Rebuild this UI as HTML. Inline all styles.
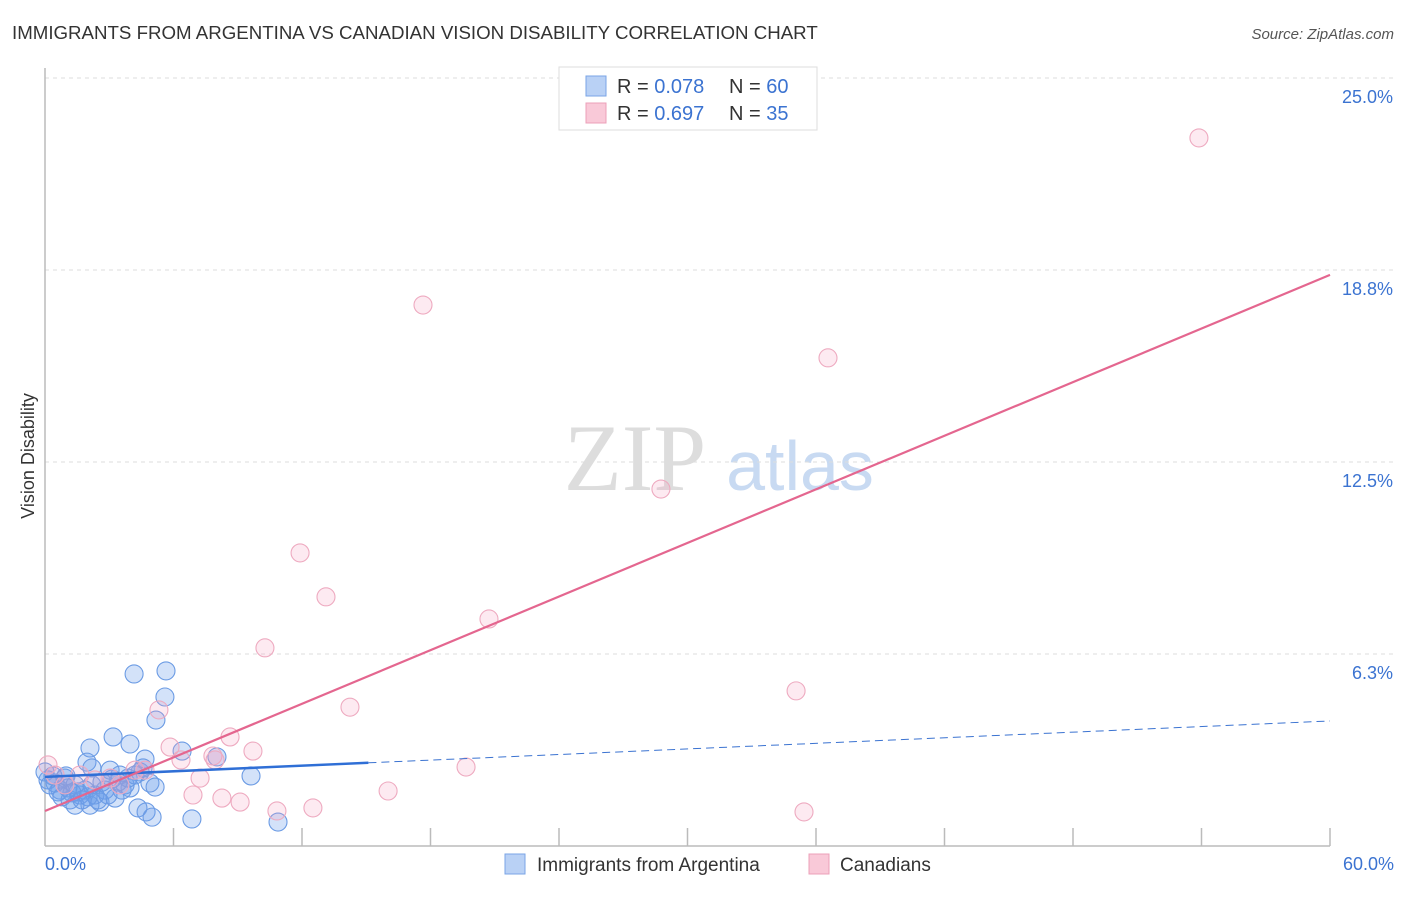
<!DOCTYPE html>
<html><head><meta charset="utf-8"><style>
body{margin:0;background:#fff;font-family:"Liberation Sans",sans-serif;}
</style></head><body>
<svg width="1406" height="892" viewBox="0 0 1406 892" xmlns="http://www.w3.org/2000/svg">
<text x="12" y="39" font-size="18.7" fill="#333">IMMIGRANTS FROM ARGENTINA VS CANADIAN VISION DISABILITY CORRELATION CHART</text>
<text x="1394" y="39" font-size="15" fill="#555" font-style="italic" text-anchor="end">Source: ZipAtlas.com</text>
<g>
<text x="635" y="490" font-size="95" fill="#ddd" font-family="Liberation Serif" text-anchor="middle">ZIP</text>
<text x="800" y="490" font-size="70" fill="#c8daf2" text-anchor="middle">atlas</text>
</g>
<g id="grid"></g>
<g id="axes"></g>
<g id="marks"></g>
<text transform="translate(34,456) rotate(-90)" font-size="18" fill="#333" text-anchor="middle">Vision Disability</text>
<text x="45" y="870" font-size="18" fill="#3b73d1">0.0%</text>
<text x="1394" y="870" font-size="18" fill="#3b73d1" text-anchor="end">60.0%</text>
<g>
<rect x="559" y="67" width="258" height="63" fill="#fff" stroke="#ddd"/>
<rect x="586" y="76" width="20" height="20" fill="#b9d1f5" stroke="#7aa4e6"/>
<rect x="586" y="103" width="20" height="20" fill="#f9c9d8" stroke="#eca0b9"/>
<text x="617" y="93" font-size="20" fill="#333">R = <tspan fill="#3b73d1">0.078</tspan></text>
<text x="729" y="93" font-size="20" fill="#333">N = <tspan fill="#3b73d1">60</tspan></text>
<text x="617" y="120" font-size="20" fill="#333">R = <tspan fill="#3b73d1">0.697</tspan></text>
<text x="729" y="120" font-size="20" fill="#333">N = <tspan fill="#3b73d1">35</tspan></text>
</g>
<g>
<rect x="505" y="854" width="20" height="20" fill="#b9d1f5" stroke="#7aa4e6"/>
<text x="537" y="871" font-size="19" fill="#333">Immigrants from Argentina</text>
<rect x="809" y="854" width="20" height="20" fill="#f9c9d8" stroke="#eca0b9"/>
<text x="840" y="871" font-size="19" fill="#333">Canadians</text>
</g>
</svg>
<script>
const yTicks=[6.25,12.5,18.75,25];
const yTickLabels=["6.3%","12.5%","18.8%","25.0%"];
const xTicks=[6,12,18,24,30,36,42,48,54,60];
const blueX=[4.16,5.65,5.60,5.18,3.18,3.97,2.10,4.67,6.40,8.03,1.96,9.62,3.04,3.50,4.44,0.14,0.47,0.93,1.40,0.70,1.87,2.33,2.80,3.27,3.74,3.97,1.17,1.63,2.57,2.10,1.40,4.90,5.14,4.34,4.72,5.00,6.86,10.88,0.23,0.61,1.07,1.54,2.01,2.47,2.94,3.41,3.88,4.20,0.79,1.26,1.73,2.19,2.66,3.13,3.60,0,0.37,0.98,2.19,4.58];
const blueY=[5.60,5.70,4.85,4.10,3.55,3.32,3.19,2.83,3.09,2.90,2.73,2.28,2.47,2.31,2.41,2.15,2.05,2.21,1.99,1.82,1.82,1.66,1.82,1.56,1.99,1.89,1.50,1.66,1.43,1.33,1.33,2.05,1.92,1.24,1.11,0.94,0.88,0.78,1.99,1.76,1.89,1.76,1.60,1.50,1.66,2.08,2.21,2.31,1.60,1.73,1.50,1.99,2.08,2.18,1.82,2.41,2.28,2.28,2.54,2.54];
const pinkX=[53.88,17.65,36.56,28.76,11.91,13.12,20.73,10.27,35.07,14.24,5.32,8.64,9.71,5.84,6.35,7.84,19.66,7.24,16.02,6.91,8.26,9.11,10.83,12.51,35.44,0.14,0.47,1.63,3.04,3.50,4.20,4.67,2.33,0.93,7.94];
const pinkY=[23.05,17.61,15.89,11.62,9.54,8.11,7.39,6.45,5.05,4.52,4.43,3.55,3.09,3.22,2.80,2.93,2.57,2.21,1.79,1.66,1.56,1.43,1.14,1.24,1.11,2.64,2.31,2.31,2.21,1.99,2.47,2.47,2.15,1.99,2.80];
const pinkTrend=[1.14,18.59];
const blueTrend=[2.25,4.07];
const blueSolidEnd=15.1;

const NS="http://www.w3.org/2000/svg";
const X=v=>45+v/60*1285, Y=v=>846-v/25*768;
function mk(tag,attrs,parent){const e=document.createElementNS(NS,tag);for(const k in attrs)e.setAttribute(k,attrs[k]);document.getElementById(parent).appendChild(e);return e;}
yTicks.forEach((t,i)=>{
 const g=mk('line',{x1:45,x2:1395,y1:Y(t),y2:Y(t),stroke:'#ddd','stroke-dasharray':'4,4'},'grid');
 
 
 const tx=mk('text',{x:1393,y:Y(t)+25,'font-size':18,fill:'#3b73d1','text-anchor':'end'},'grid');
 tx.textContent=yTickLabels[i];
 
 
});
let a=mk('line',{x1:45,x2:45,y1:68,y2:846,stroke:'#bbb','stroke-width':1.5},'axes');


a=mk('line',{x1:45,x2:1330,y1:846,y2:846,stroke:'#bbb','stroke-width':1.5},'axes');


xTicks.forEach(t=>{const l=mk('line',{x1:X(t),x2:X(t),y1:828,y2:846,stroke:'#bbb','stroke-width':1.5},'axes');
 
 });
blueX.forEach((x,i)=>{const c=mk('circle',{cx:X(x),cy:Y(blueY[i]),r:9,fill:'rgba(110,160,235,0.3)',stroke:'#6b9be4','stroke-width':1.1},'marks');
 
 });
pinkX.forEach((x,i)=>{const c=mk('circle',{cx:X(x),cy:Y(pinkY[i]),r:9,fill:'rgba(245,160,190,0.22)',stroke:'#eeaac0','stroke-width':1.1},'marks');
 
 });
const bAt=v=>blueTrend[0]+(blueTrend[1]-blueTrend[0])*v/60;
let l=mk('line',{x1:X(blueSolidEnd),y1:Y(bAt(blueSolidEnd)),x2:X(60),y2:Y(blueTrend[1]),stroke:'#3b73d1','stroke-width':1,'stroke-dasharray':'8,5'},'marks');


l=mk('line',{x1:X(0),y1:Y(blueTrend[0]),x2:X(blueSolidEnd),y2:Y(bAt(blueSolidEnd)),stroke:'#2f6fd6','stroke-width':2.5},'marks');


l=mk('line',{x1:X(0),y1:Y(pinkTrend[0]),x2:X(60),y2:Y(pinkTrend[1]),stroke:'#e4668f','stroke-width':2.2},'marks');


</script>
</body></html>
